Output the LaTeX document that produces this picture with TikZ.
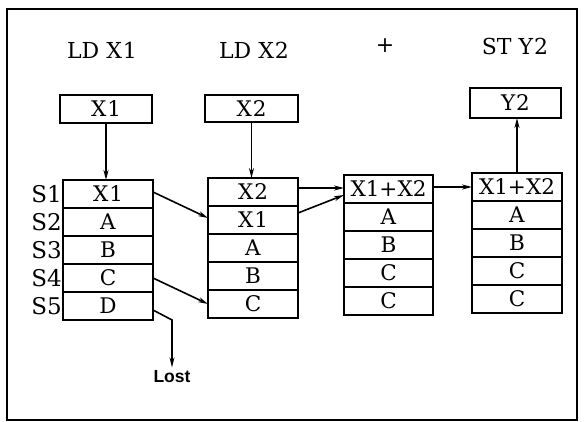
\documentclass[tikz,border=0pt]{standalone}
\usepackage{fontspec}
\newfontfamily\lostfont{Liberation Sans}
\newfontfamily\boxfont{DejaVu Serif}
\usetikzlibrary{arrows.meta,calc}
\begin{document}
\begin{tikzpicture}[x=1pt,y=-1pt,
  title/.style={font=\boxfont\fontsize{22}{26}\selectfont},
  cell/.style={draw,line width=2pt,rectangle,minimum width=90pt,minimum height=28pt,inner sep=0pt,outer sep=0pt,font=\boxfont\fontsize{21.5}{24}\selectfont},
  slabel/.style={anchor=east,font=\boxfont\fontsize{23}{26}\selectfont,inner sep=1pt},
  arr/.style={line width=1.6pt,-{Stealth[length=10pt,width=5pt]}},
  frame/.style={line width=2.2pt}]
\useasboundingbox (0,0) rectangle (584,422);
\draw[frame] (7,9) rectangle (577,420);
% titles
\node[title] (t1) at (102,50) {LD X\kern1pt 1};
\node[title] (t2) at (254,50) {LD X\kern1pt 2};
\node[title] (t3) at (385,46) {+};
\node[title] (t4) at (515,46) {ST Y\kern1pt 2};
% top boxes
\node[cell,minimum width=92pt] (bx1) at (106,109) {X\kern1pt 1};
\node[cell,minimum width=93pt,minimum height=27pt] (bx2) at (251.5,108.5) {X\kern1pt 2};
\node[cell,minimum width=91pt,minimum height=30pt] (by2) at (515.5,103) {Y\kern1pt 2};
% stack 1
\node[cell] (a1) at (108,194) {X\kern1pt 1};
\node[cell] (a2) at (108,222) {A};
\node[cell] (a3) at (108,250) {B};
\node[cell] (a4) at (108,278) {C};
\node[cell] (a5) at (108,306) {D};
\node[slabel] (l1) at (a1.west) {S1};
\node[slabel] (l2) at (a2.west) {S2};
\node[slabel] (l3) at (a3.west) {S3};
\node[slabel] (l4) at (a4.west) {S4};
\node[slabel] (l5) at (a5.west) {S5};
% stack 2
\node[cell] (b1) at (253,192) {X\kern1pt 2};
\node[cell] (b2) at (253,220) {X\kern1pt 1};
\node[cell] (b3) at (253,248) {A};
\node[cell] (b4) at (253,276) {B};
\node[cell] (b5) at (253,304) {C};
% stack 3
\node[cell,minimum width=89pt] (c1) at (388.5,189) {X1+X2};
\node[cell,minimum width=89pt] (c2) at (388.5,217) {A};
\node[cell,minimum width=89pt] (c3) at (388.5,245) {B};
\node[cell,minimum width=89pt] (c4) at (388.5,273) {C};
\node[cell,minimum width=89pt] (c5) at (388.5,301) {C};
% stack 4
\node[cell] (d1) at (517,187) {X1+X2};
\node[cell] (d2) at (517,215) {A};
\node[cell] (d3) at (517,243) {B};
\node[cell] (d4) at (517,271) {C};
\node[cell] (d5) at (517,299) {C};
% lost
\node[font=\lostfont\bfseries\fontsize{17.5}{20}\selectfont] (lost) at (172,377) {Lost};
\coordinate (bend) at (172,320);
% arrows
\draw[arr] (bx1.south) -- (bx1.south |- a1.north);
\draw[arr] (bx2.south) -- (bx2.south |- b1.north);
\draw[arr] ($(a1.east)+(0,-2)$) -- ($(b2.west)+(0,-2)$);
\draw[arr] (a4.east) -- (b5.west);
\draw[arr] ($(a5.east)+(0,4)$) -- (bend) -- (lost.north);
\draw[arr] ($(b1.east)+(0,-4)$) -- ($(c1.west)+(0,-1)$);
\draw[arr] ($(b2.east)+(0,-7)$) -- ($(c1.west)+(0,6)$);
\draw[arr] ($(c1.east)+(0,-2)$) -- (d1.west);
\draw[arr] (d1.north) -- (d1.north |- by2.south);
\end{tikzpicture}
\end{document}
